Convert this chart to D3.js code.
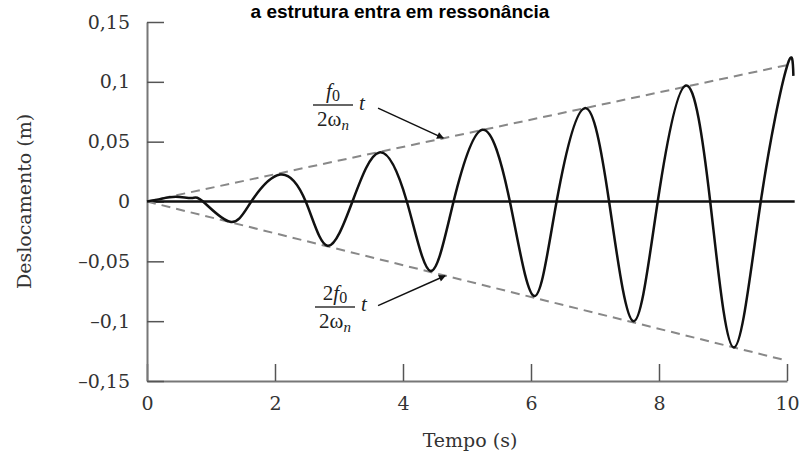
<!DOCTYPE html>
<html lang="pt">
<head>
    <meta charset="UTF-8">
    <title>Deslocamento em ressonância</title>
    <script src="https://d3js.org/d3.v7.min.js"></script>
    <style>
        body { margin: 0; background: #fff; }
        svg { display: block; }
    </style>
</head>
<body>

<script>
    // Valores
    var tempo = [0, 0.2, 0.45, 0.7, 0.875, 1.3, 1.63, 2.08, 2.48, 2.82, 3.21, 3.63, 4.06, 4.43, 4.79,
                 5.24, 5.67, 6.05, 6.40, 6.84, 7.22, 7.60, 7.98, 8.42, 8.80, 9.17, 9.59, 10.0, 10.1];
    var desloc = [0, 0.002, 0.004, 0.003, 0, -0.017, 0, 0.0225, 0, -0.037, 0, 0.041, 0, -0.058, 0,
                  0.060, 0, -0.079, 0, 0.078, 0, -0.100, 0, 0.097, 0, -0.122, 0, 0.113, 0.105];

    // Envoltórias tracejadas
    var envT = [0, 10];
    var envSup = [0, 0.114];
    var envInf = [0, -0.133];

    var xTicks = [0, 2, 4, 6, 8, 10];
    var yTicks = [-0.15, -0.1, -0.05, 0, 0.05, 0.1, 0.15];

    var titulo = "a estrutura entra em ressonância";

    var width = 801, height = 463;
    var margin = { left: 147, right: 14, top: 22, bottom: 82 };

    var svg = d3.select("body").append("svg")
        .attr("width", width)
        .attr("height", height);

    var x = d3.scaleLinear().domain([0, 10]).range([margin.left, width - margin.right]);
    var y = d3.scaleLinear().domain([-0.15, 0.15]).range([height - margin.bottom, margin.top]);

    var serif = "'DejaVu Serif', 'Liberation Serif', serif";
    var fmt = function (d) {
        var s = d3.format(".2~f")(Math.abs(d)).replace(".", ",");
        return (d < 0 ? "\u2013" : "") + s;
    };

    // titulo
    svg.append("text")
        .attr("x", 400).attr("y", 18)
        .attr("text-anchor", "middle")
        .style("font-family", "'Liberation Sans', Arial, sans-serif")
        .style("font-weight", "bold")
        .style("font-size", "19px")
        .text(titulo);

    // eixos
    var gx = svg.append("g")
        .attr("transform", "translate(0," + y(-0.15) + ")")
        .call(d3.axisBottom(x).tickValues(xTicks).tickSize(-17).tickSizeOuter(0).tickPadding(16));
    var gy = svg.append("g")
        .attr("transform", "translate(" + x(0) + ",0)")
        .call(d3.axisLeft(y).tickValues(yTicks).tickFormat(fmt).tickSize(-17).tickSizeOuter(0).tickPadding(17));

    [gx, gy].forEach(function (g) {
        g.select(".domain").attr("stroke", "#777").attr("stroke-width", 2);
        g.selectAll(".tick line").attr("stroke", "#555").attr("stroke-width", 1.5);
        g.selectAll(".tick text")
            .attr("fill", "#333")
            .style("font-family", serif)
            .style("font-size", "19px");
    });

    // titulos dos eixos
    svg.append("text")
        .attr("x", 470).attr("y", 447)
        .attr("text-anchor", "middle")
        .style("font-family", serif).style("font-size", "19px")
        .attr("fill", "#333")
        .text("Tempo (s)");

    svg.append("text")
        .attr("transform", "translate(31," + y(0) + ") rotate(-90)")
        .attr("text-anchor", "middle")
        .style("font-family", serif).style("font-size", "19px")
        .attr("fill", "#333")
        .text("Deslocamento (m)");

    // linha do zero
    svg.append("line")
        .attr("x1", x(0)).attr("x2", x(10.12))
        .attr("y1", y(0)).attr("y2", y(0))
        .attr("stroke", "#111").attr("stroke-width", 2.5);

    // envoltórias
    var envLine = d3.line().x(function (d) { return x(d[0]); }).y(function (d) { return y(d[1]); });
    [envSup, envInf].forEach(function (serie) {
        svg.append("path")
            .datum(envT.map(function (t, i) { return [t, serie[i]]; }))
            .attr("d", envLine)
            .attr("fill", "none")
            .attr("stroke", "#888")
            .attr("stroke-width", 2)
            .attr("stroke-dasharray", "9,6");
    });

    // resposta
    var pontos = tempo.map(function (t, i) { return [t, desloc[i]]; });
    svg.append("path")
        .datum(pontos)
        .attr("d", d3.line().curve(d3.curveNatural)
            .x(function (d) { return x(d[0]); })
            .y(function (d) { return y(d[1]); }))
        .attr("fill", "none")
        .attr("stroke", "#111")
        .attr("stroke-width", 2.5);

    // setas de anotação
    svg.append("defs").append("marker")
        .attr("id", "seta")
        .attr("viewBox", "0 0 10 10")
        .attr("refX", 9).attr("refY", 5)
        .attr("markerWidth", 10).attr("markerHeight", 7)
        .attr("markerUnits", "userSpaceOnUse")
        .attr("orient", "auto")
        .append("path").attr("d", "M0,0 L10,5 L0,10 z").attr("fill", "#111");

    var serifFr = "'Liberation Serif', 'DejaVu Serif', serif";
    function fracao(cx, yNum, numPre, tx, ty) {
        var g = svg.append("g").style("font-family", serifFr).attr("fill", "#222");
        var num = g.append("text").attr("x", cx).attr("y", yNum)
            .attr("text-anchor", "middle").style("font-size", "21px");
        if (numPre) num.append("tspan").text(numPre);
        num.append("tspan").style("font-style", "italic").text("f");
        num.append("tspan").attr("dy", 3).style("font-size", "16px").text("0");
        g.append("line")
            .attr("x1", cx - 20).attr("x2", cx + 20)
            .attr("y1", yNum + 7).attr("y2", yNum + 7)
            .attr("stroke", "#333").attr("stroke-width", 1.5);
        var den = g.append("text").attr("x", cx).attr("y", yNum + 28)
            .attr("text-anchor", "middle").style("font-size", "21px");
        den.append("tspan").text("2ω");
        den.append("tspan").attr("dy", 4).style("font-style", "italic").style("font-size", "15px").text("n");
        g.append("text").attr("x", tx).attr("y", ty)
            .style("font-size", "21px").style("font-style", "italic").text("t");
    }

    fracao(333, 98, "", 359, 110);
    fracao(335, 300, "2", 361, 311);

    svg.append("line")
        .attr("x1", x(3.61)).attr("y1", y(0.078))
        .attr("x2", x(4.63)).attr("y2", y(0.053))
        .attr("stroke", "#111").attr("stroke-width", 1.5)
        .attr("marker-end", "url(#seta)");
    svg.append("line")
        .attr("x1", x(3.61)).attr("y1", y(-0.087))
        .attr("x2", x(4.66)).attr("y2", y(-0.062))
        .attr("stroke", "#111").attr("stroke-width", 1.5)
        .attr("marker-end", "url(#seta)");
</script>

</body>
</html>
